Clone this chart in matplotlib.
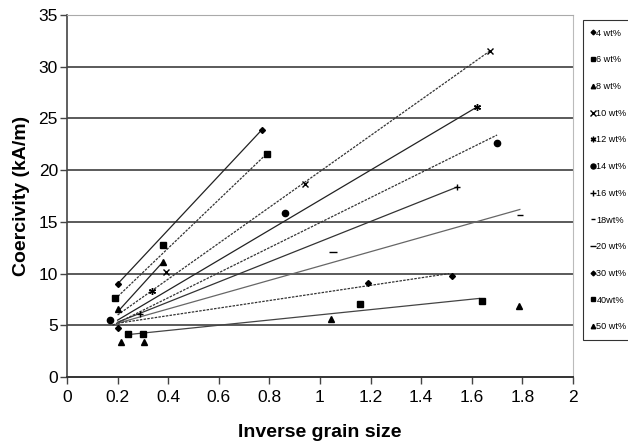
import matplotlib
matplotlib.use('Agg')
import matplotlib.pyplot as plt
from matplotlib.lines import Line2D

plt.rcParams['font.family'] = ['Liberation Sans', 'DejaVu Sans']

# series labels as in the legend
labels = ['4 wt%', '6 wt%', '8 wt%', '10 wt%', '12 wt%', '14 wt%',
          '16 wt%', '18wt%', '20 wt%', '30 wt%', '40wt%', '50 wt%']

# measured points (inverse grain size, coercivity)
pts_x = [
    [0.20, 0.77],
    [0.19, 0.38, 0.79],
    [0.20, 0.38],
    [0.39, 0.94, 1.67],
    [0.335, 1.62],
    [0.17, 0.86, 1.70],
    [0.29, 1.54],
    [1.79],
    [1.05],
    [0.20, 1.19, 1.52],
    [0.243, 0.30, 1.16, 1.64],
    [0.213, 0.306, 1.044, 1.787],
]
pts_y = [
    [9.0, 23.9],
    [7.6, 12.8, 21.6],
    [6.6, 11.15],
    [10.2, 18.7, 31.5],
    [8.3, 26.1],
    [5.5, 15.9, 22.6],
    [6.1, 18.35],
    [15.7],
    [12.05],
    [4.77, 9.06, 9.8],
    [4.13, 4.13, 7.1, 7.38],
    [3.36, 3.36, 5.6, 6.9],
]

# trend lines (start / end), None where no line was drawn
trend_x = [[0.20, 0.77], [0.18, 0.79], [0.20, 0.38], [0.20, 1.67], [0.20, 1.62],
           [0.18, 1.70], [0.20, 1.54], [0.20, 1.79], None, [0.20, 1.51],
           [0.24, 1.63], None]
trend_y = [[9.0, 23.9], [7.3, 21.6], [6.3, 11.15], [6.0, 31.5], [5.5, 26.1],
           [5.0, 23.4], [5.3, 18.35], [5.2, 16.2], None, [5.2, 10.0],
           [4.1, 7.6], None]

markers = ['D', 's', '^', 'x', (6, 2, 0), 'o', '+', '_', '_', 'D', 's', '^']
msizes = [3, 4, 4, 5, 5, 4.5, 5, 4, 6, 3, 4, 4]
styles = ['-', '--', '-', '--', '-', '--', '-', '-', '-', '--', '-', '-']
lcolors = ['#222222', '#333333', '#222222', '#333333', '#222222', '#333333',
           '#333333', '#666666', '#666666', '#333333', '#444444', '#444444']

fig = plt.figure(figsize=(6.28, 4.42), dpi=100)
ax = fig.add_axes([0.1067, 0.147, 0.8057, 0.819])

for y in range(5, 35, 5):
    ax.axhline(y, color='#5a5a5a', lw=1.4, zorder=1)

handles = []
for i, lab in enumerate(labels):
    ax.plot(pts_x[i], pts_y[i], linestyle='none', marker=markers[i], ms=msizes[i],
            color='black', mew=1.0, zorder=4)
    if trend_x[i] is not None:
        ax.plot(trend_x[i], trend_y[i], linestyle=styles[i], color=lcolors[i],
                lw=0.9, dashes=(2, 1) if styles[i] == '--' else (None, None), zorder=3)
    handles.append(Line2D([], [], linestyle='none', marker=markers[i],
                          ms=msizes[i] * 0.8, color='black', label=lab))

ax.set_xlim(0, 2)
ax.set_ylim(0, 35)
ax.set_xticks([0, 0.2, 0.4, 0.6, 0.8, 1, 1.2, 1.4, 1.6, 1.8, 2])
ax.set_xticklabels(['0', '0.2', '0.4', '0.6', '0.8', '1', '1.2', '1.4', '1.6', '1.8', '2'])
ax.set_yticks(range(0, 36, 5))
ax.tick_params(axis='both', labelsize=12.5, direction='out', length=5,
               color='#444444', width=1.0)
ax.tick_params(axis='y', pad=1.5)
ax.tick_params(axis='x', pad=4)

ax.spines['left'].set_color('#444444')
ax.spines['left'].set_linewidth(1.2)
ax.spines['bottom'].set_color('#333333')
ax.spines['bottom'].set_linewidth(1.4)
ax.spines['top'].set_color('#aaaaaa')
ax.spines['right'].set_color('#bbbbbb')

ax.set_xlabel('Inverse grain size', fontsize=14, fontweight='bold', labelpad=14)
ax.set_ylabel('Coercivity (kA/m)', fontsize=14, fontweight='bold', labelpad=6)

leg = ax.legend(handles=handles, loc='upper left', bbox_to_anchor=(1.019, 0.985),
                fontsize=6.6, frameon=True, fancybox=False, edgecolor='black',
                labelspacing=1.93, handlelength=0.45, handletextpad=0.15,
                borderpad=0.9, borderaxespad=0)
leg.get_frame().set_linewidth(0.8)

fig.savefig('out.png', dpi=100)
